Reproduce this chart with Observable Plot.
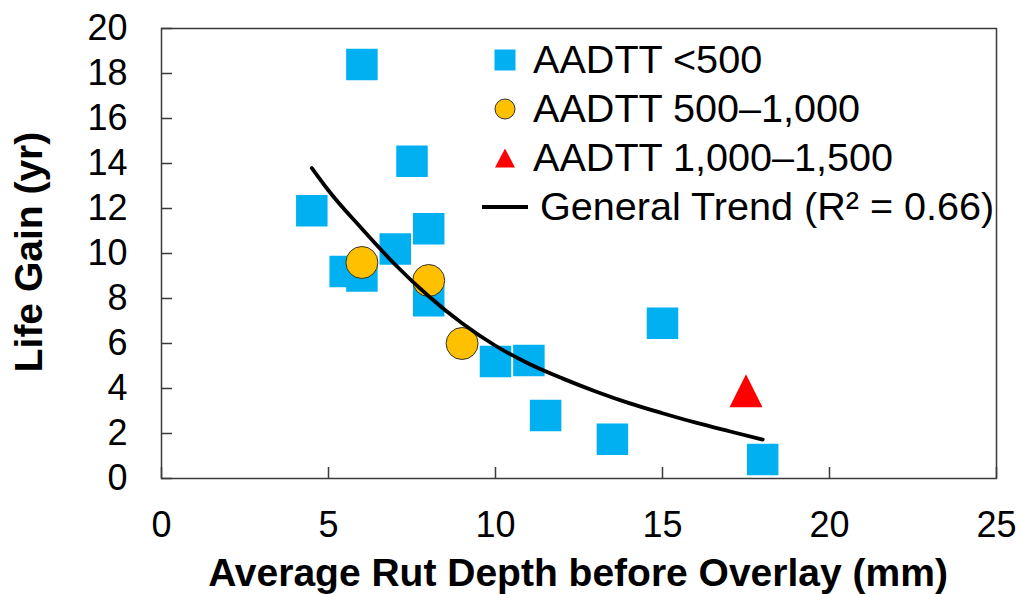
<!DOCTYPE html>
<html>
<head>
<meta charset="utf-8">
<script src="https://cdn.jsdelivr.net/npm/d3@7"></script>
<script src="https://cdn.jsdelivr.net/npm/@observablehq/plot@0.6"></script>
<style>
  body { margin: 0; background: #fff; }
  #wrap { position: relative; width: 1023px; height: 594px; font-family: "Liberation Sans", Arial, sans-serif; color: #000; }
  .title { position: absolute; font-weight: bold; font-size: 39px; line-height: 1; white-space: nowrap; }
  #legend { position: absolute; left: 476px; top: 35px; font-size: 39.6px; line-height: 1; }
  .row { display: flex; align-items: center; height: 49px; white-space: nowrap; }
  .sw { width: 57px; display: flex; justify-content: center; align-items: center; }
  .sw svg { display: block; }
</style>
</head>
<body>
<div id="wrap"></div>
<script>
// AADTT < 500 sections: rut depth (mm) and life gain (yr)
const rutLow  = [6, 4.5, 7.5, 8, 7, 5.5, 6, 8, 10, 11, 11.5, 13.5, 15, 18];
const gainLow = [18.4, 11.9, 14.1, 11.1, 10.2, 9.2, 9.0, 7.9, 5.2, 5.25, 2.8, 1.75, 6.9, 0.85];

// AADTT 500–1,000 sections
const rutMid  = [6, 8, 9];
const gainMid = [9.6, 8.8, 6.0];

// AADTT 1,000–1,500 sections
const rutHigh  = [17.5];
const gainHigh = [3.9];

// General trend curve (R² = 0.66)
const trendRut  = [4.5, 5, 6, 7, 8, 9, 10, 11, 12, 13, 14, 15, 16, 17, 18];
const trendGain = [13.8, 12.8, 11.1, 9.5, 8.1, 6.9, 5.9, 5.1, 4.45, 3.87, 3.35, 2.9, 2.48, 2.1, 1.73];

// Axis ticks and text
const xTicks = [0, 5, 10, 15, 20, 25];
const yTicks = [0, 2, 4, 6, 8, 10, 12, 14, 16, 18, 20];
const xTitle = "Average Rut Depth before Overlay (mm)";
const yTitle = "Life Gain (yr)";
const legendLabels = ["AADTT <500", "AADTT 500\u20131,000", "AADTT 1,000\u20131,500", "General Trend (R\u00b2 = 0.66)"];

const colors = { low: "#00B0F0", mid: "#FFC000", high: "#FF0000", trend: "#000000", axis: "#3a3a3a" };

const zip = (xs, ys) => xs.map((x, i) => ({ x, y: ys[i] }));
const lowPts = zip(rutLow, gainLow);
const midPts = zip(rutMid, gainMid);
const highPts = zip(rutHigh, gainHigh);
const trendPts = zip(trendRut, trendGain);

// Marker shapes: square and an upright triangle as wide as it is tall
const squareSym = {
  draw(ctx, size) {
    const s = Math.sqrt(size) / 2;
    ctx.moveTo(-s, -s); ctx.lineTo(s, -s); ctx.lineTo(s, s); ctx.lineTo(-s, s); ctx.closePath();
  }
};
const triangleSym = {
  draw(ctx, size) {
    const s = Math.sqrt(size) / 2;
    ctx.moveTo(0, -s); ctx.lineTo(s, s); ctx.lineTo(-s, s); ctx.closePath();
  }
};
const sideToR = (side) => side / Math.sqrt(Math.PI);

const W = 1023, H = 594;
const M = { left: 161, right: 27, top: 28, bottom: 116 };
const innerW = W - M.left - M.right;
const innerH = H - M.top - M.bottom;
const tickLen = 11;

const chart = Plot.plot({
  width: W,
  height: H,
  marginLeft: M.left,
  marginRight: M.right,
  marginTop: M.top,
  marginBottom: M.bottom,
  x: { domain: [0, 25], label: null },
  y: { domain: [0, 20], label: null },
  style: { fontFamily: "'Liberation Sans', Arial, sans-serif", fontSize: "36px", color: "#000", background: "#fff", overflow: "visible" },
  marks: [
    Plot.dot(lowPts, { x: "x", y: "y", symbol: squareSym, r: sideToR(31.5), fill: colors.low }),
    Plot.dot(midPts, { x: "x", y: "y", r: 16, fill: colors.mid, stroke: "#333", strokeWidth: 1 }),
    Plot.dot(highPts, { x: "x", y: "y", symbol: triangleSym, r: sideToR(33), fill: colors.high }),
    Plot.line(trendPts, { x: "x", y: "y", curve: "monotone-x", stroke: colors.trend, strokeWidth: 3.8 }),
    // inward tick marks along the left and bottom edges
    Plot.ruleY(yTicks, { y: d => d, insetRight: innerW - tickLen, stroke: colors.axis, strokeWidth: 1.5 }),
    Plot.ruleX(xTicks, { x: d => d, insetTop: innerH - tickLen, stroke: colors.axis, strokeWidth: 1.5 }),
    Plot.frame({ stroke: colors.axis, strokeWidth: 1.5 }),
    Plot.axisX(xTicks, { tickSize: 0, tickPadding: 33, label: null }),
    Plot.axisY(yTicks, { tickSize: 0, tickPadding: 34, label: null })
  ]
});

const wrap = document.getElementById("wrap");
wrap.appendChild(chart);

// Axis titles
const xt = document.createElement("div");
xt.className = "title";
xt.textContent = xTitle;
xt.style.left = "578px";
xt.style.top = "572px";
xt.style.transform = "translate(-50%, -50%)";
wrap.appendChild(xt);

const yt = document.createElement("div");
yt.className = "title";
yt.textContent = yTitle;
yt.style.left = "28px";
yt.style.top = "252px";
yt.style.transform = "translate(-50%, -50%) rotate(-90deg)";
wrap.appendChild(yt);

// Legend
const swatches = [
  `<svg width="22" height="22"><rect x="0.5" y="0.5" width="21" height="21" fill="${colors.low}"/></svg>`,
  `<svg width="22" height="22"><circle cx="11" cy="11" r="10" fill="${colors.mid}" stroke="#333" stroke-width="1"/></svg>`,
  `<svg width="22" height="22"><path d="M11,1.5L21,20.5L1,20.5Z" fill="${colors.high}"/></svg>`,
  `<svg width="46" height="6"><line x1="0" y1="3" x2="46" y2="3" stroke="${colors.trend}" stroke-width="3.8"/></svg>`
];
const legend = document.createElement("div");
legend.id = "legend";
legendLabels.forEach((label, i) => {
  const row = document.createElement("div");
  row.className = "row";
  const sw = document.createElement("div");
  sw.className = "sw";
  sw.innerHTML = swatches[i];
  const txt = document.createElement("span");
  txt.textContent = label;
  if (i === 3) txt.style.marginLeft = "7px";
  row.appendChild(sw);
  row.appendChild(txt);
  legend.appendChild(row);
});
wrap.appendChild(legend);
</script>
</body>
</html>
